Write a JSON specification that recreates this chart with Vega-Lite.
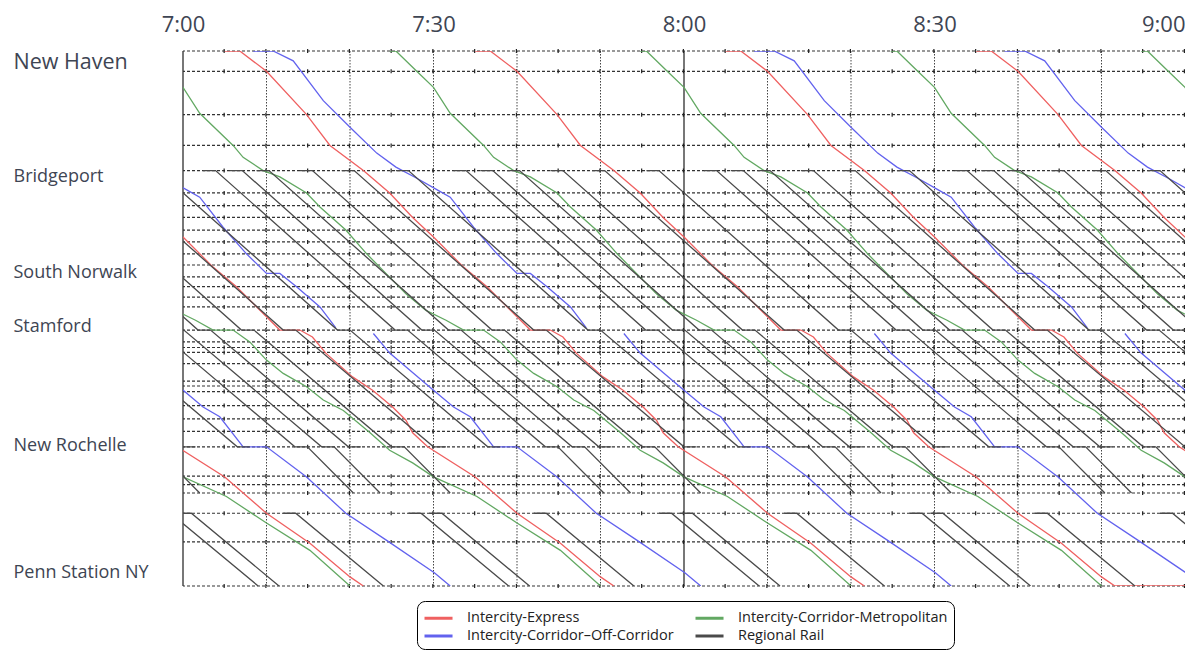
{
"$schema":"https://vega.github.io/schema/vega-lite/v6.json",
"width":1002,"height":535,
"autosize":{"type":"none"},
"padding":{"left":183,"top":51,"right":0,"bottom":64},
"background":"white",
"config":{"view":{"stroke":null},"font":"Open Sans"},
"datasets":{
"stations":[{"m":76.5},{"m":73.6},{"m":67.4},{"m":63.0},{"m":59.4},{"m":56.2},{"m":54.4},{"m":52.7},{"m":50.9},{"m":49.2},{"m":47.5},{"m":45.9},{"m":44.2},{"m":42.8},{"m":41.3},{"m":39.9},{"m":36.6},{"m":34.9},{"m":34.1},{"m":33.4},{"m":31.8},{"m":29.3},{"m":28.6},{"m":27.8},{"m":25.8},{"m":23.9},{"m":22.1},{"m":19.9},{"m":15.7},{"m":14.5},{"m":13.3},{"m":10.4},{"m":6.3},{"m":0}],
"trains":[
{"id":"E1","c":"E","t":-2.5,"m":21.9},{"id":"E1","c":"E","t":-0.7,"m":19.9},{"id":"E1","c":"E","t":5,"m":15.6},{"id":"E1","c":"E","t":10,"m":10.4},{"id":"E1","c":"E","t":15.2,"m":6.1},{"id":"E1","c":"E","t":20,"m":1.3},{"id":"E1","c":"E","t":21.6,"m":0},
{"id":"E2","c":"E","t":-2.5,"m":52.7},{"id":"E2","c":"E","t":0,"m":49.9},{"id":"E2","c":"E","t":3.6,"m":45.6},{"id":"E2","c":"E","t":6.4,"m":42.8},{"id":"E2","c":"E","t":10,"m":38.5},{"id":"E2","c":"E","t":11.6,"m":36.6},{"id":"E2","c":"E","t":14,"m":36.6},{"id":"E2","c":"E","t":15.5,"m":35.6},{"id":"E2","c":"E","t":17.1,"m":33.3},{"id":"E2","c":"E","t":20.3,"m":29.9},{"id":"E2","c":"E","t":22.7,"m":28.0},{"id":"E2","c":"E","t":25.1,"m":25.6},{"id":"E2","c":"E","t":26.7,"m":23.7},{"id":"E2","c":"E","t":27.5,"m":21.9},{"id":"E2","c":"E","t":29.3,"m":19.9},{"id":"E2","c":"E","t":35,"m":15.6},{"id":"E2","c":"E","t":40,"m":10.4},{"id":"E2","c":"E","t":45.2,"m":6.1},{"id":"E2","c":"E","t":50,"m":1.3},{"id":"E2","c":"E","t":51.6,"m":0},
{"id":"E3","c":"E","t":5,"m":76.5},{"id":"E3","c":"E","t":6.8,"m":76.5},{"id":"E3","c":"E","t":10,"m":73.6},{"id":"E3","c":"E","t":14.8,"m":67.4},{"id":"E3","c":"E","t":17.6,"m":63.0},{"id":"E3","c":"E","t":21.6,"m":59.4},{"id":"E3","c":"E","t":24.75,"m":56.2},{"id":"E3","c":"E","t":27.5,"m":52.7},{"id":"E3","c":"E","t":30,"m":49.9},{"id":"E3","c":"E","t":33.6,"m":45.6},{"id":"E3","c":"E","t":36.4,"m":42.8},{"id":"E3","c":"E","t":40,"m":38.5},{"id":"E3","c":"E","t":41.6,"m":36.6},{"id":"E3","c":"E","t":44,"m":36.6},{"id":"E3","c":"E","t":45.5,"m":35.6},{"id":"E3","c":"E","t":47.1,"m":33.3},{"id":"E3","c":"E","t":50.3,"m":29.9},{"id":"E3","c":"E","t":52.7,"m":28.0},{"id":"E3","c":"E","t":55.1,"m":25.6},{"id":"E3","c":"E","t":56.7,"m":23.7},{"id":"E3","c":"E","t":57.5,"m":21.9},{"id":"E3","c":"E","t":59.3,"m":19.9},{"id":"E3","c":"E","t":65,"m":15.6},{"id":"E3","c":"E","t":70,"m":10.4},{"id":"E3","c":"E","t":75.2,"m":6.1},{"id":"E3","c":"E","t":80,"m":1.3},{"id":"E3","c":"E","t":81.6,"m":0},
{"id":"E4","c":"E","t":35,"m":76.5},{"id":"E4","c":"E","t":36.8,"m":76.5},{"id":"E4","c":"E","t":40,"m":73.6},{"id":"E4","c":"E","t":44.8,"m":67.4},{"id":"E4","c":"E","t":47.6,"m":63.0},{"id":"E4","c":"E","t":51.6,"m":59.4},{"id":"E4","c":"E","t":54.75,"m":56.2},{"id":"E4","c":"E","t":57.5,"m":52.7},{"id":"E4","c":"E","t":60,"m":49.9},{"id":"E4","c":"E","t":63.6,"m":45.6},{"id":"E4","c":"E","t":66.4,"m":42.8},{"id":"E4","c":"E","t":70,"m":38.5},{"id":"E4","c":"E","t":71.6,"m":36.6},{"id":"E4","c":"E","t":74,"m":36.6},{"id":"E4","c":"E","t":75.5,"m":35.6},{"id":"E4","c":"E","t":77.1,"m":33.3},{"id":"E4","c":"E","t":80.3,"m":29.9},{"id":"E4","c":"E","t":82.7,"m":28.0},{"id":"E4","c":"E","t":85.1,"m":25.6},{"id":"E4","c":"E","t":86.7,"m":23.7},{"id":"E4","c":"E","t":87.5,"m":21.9},{"id":"E4","c":"E","t":89.3,"m":19.9},{"id":"E4","c":"E","t":95,"m":15.6},{"id":"E4","c":"E","t":100,"m":10.4},{"id":"E4","c":"E","t":105.2,"m":6.1},{"id":"E4","c":"E","t":110,"m":1.3},{"id":"E4","c":"E","t":111.6,"m":0},{"id":"E4","c":"E","t":120,"m":0},
{"id":"E5","c":"E","t":65,"m":76.5},{"id":"E5","c":"E","t":66.8,"m":76.5},{"id":"E5","c":"E","t":70,"m":73.6},{"id":"E5","c":"E","t":74.8,"m":67.4},{"id":"E5","c":"E","t":77.6,"m":63.0},{"id":"E5","c":"E","t":81.6,"m":59.4},{"id":"E5","c":"E","t":84.75,"m":56.2},{"id":"E5","c":"E","t":87.5,"m":52.7},{"id":"E5","c":"E","t":90,"m":49.9},{"id":"E5","c":"E","t":93.6,"m":45.6},{"id":"E5","c":"E","t":96.4,"m":42.8},{"id":"E5","c":"E","t":100,"m":38.5},{"id":"E5","c":"E","t":101.6,"m":36.6},{"id":"E5","c":"E","t":104,"m":36.6},{"id":"E5","c":"E","t":105.5,"m":35.6},{"id":"E5","c":"E","t":107.1,"m":33.3},{"id":"E5","c":"E","t":110.3,"m":29.9},{"id":"E5","c":"E","t":112.7,"m":28.0},{"id":"E5","c":"E","t":115.1,"m":25.6},{"id":"E5","c":"E","t":116.7,"m":23.7},{"id":"E5","c":"E","t":117.5,"m":21.9},{"id":"E5","c":"E","t":119.3,"m":19.9},{"id":"E5","c":"E","t":125,"m":15.6},
{"id":"E6","c":"E","t":95,"m":76.5},{"id":"E6","c":"E","t":96.8,"m":76.5},{"id":"E6","c":"E","t":100,"m":73.6},{"id":"E6","c":"E","t":104.8,"m":67.4},{"id":"E6","c":"E","t":107.6,"m":63.0},{"id":"E6","c":"E","t":111.6,"m":59.4},{"id":"E6","c":"E","t":114.75,"m":56.2},{"id":"E6","c":"E","t":117.5,"m":52.7},{"id":"E6","c":"E","t":120,"m":49.9},{"id":"E6","c":"E","t":123.6,"m":45.6},
{"id":"M1","c":"M","t":-2.5,"m":17.6},{"id":"M1","c":"M","t":0,"m":15.6},{"id":"M1","c":"M","t":5.2,"m":12.8},{"id":"M1","c":"M","t":10,"m":9.0},{"id":"M1","c":"M","t":15.2,"m":5.1},{"id":"M1","c":"M","t":20,"m":0},
{"id":"M2","c":"M","t":-3.3,"m":41.8},{"id":"M2","c":"M","t":-0.9,"m":39.4},{"id":"M2","c":"M","t":1.5,"m":38.0},{"id":"M2","c":"M","t":3.6,"m":36.6},{"id":"M2","c":"M","t":6,"m":36.6},{"id":"M2","c":"M","t":8,"m":34.9},{"id":"M2","c":"M","t":10,"m":32.3},{"id":"M2","c":"M","t":12,"m":30.4},{"id":"M2","c":"M","t":14.8,"m":28.5},{"id":"M2","c":"M","t":16.8,"m":26.6},{"id":"M2","c":"M","t":19.2,"m":25.1},{"id":"M2","c":"M","t":22.4,"m":21.9},{"id":"M2","c":"M","t":24.75,"m":19.4},{"id":"M2","c":"M","t":27.5,"m":17.6},{"id":"M2","c":"M","t":30,"m":15.6},{"id":"M2","c":"M","t":35.2,"m":12.8},{"id":"M2","c":"M","t":40,"m":9.0},{"id":"M2","c":"M","t":45.2,"m":5.1},{"id":"M2","c":"M","t":50,"m":0},
{"id":"M3","c":"M","t":-2.1,"m":73.7},{"id":"M3","c":"M","t":0,"m":71.3},{"id":"M3","c":"M","t":2,"m":67.6},{"id":"M3","c":"M","t":6,"m":63.0},{"id":"M3","c":"M","t":7.2,"m":61.3},{"id":"M3","c":"M","t":9.6,"m":59.4},{"id":"M3","c":"M","t":11.6,"m":58.5},{"id":"M3","c":"M","t":14.8,"m":56.2},{"id":"M3","c":"M","t":16.4,"m":54.2},{"id":"M3","c":"M","t":19.5,"m":50.9},{"id":"M3","c":"M","t":22,"m":47.5},{"id":"M3","c":"M","t":24.3,"m":44.7},{"id":"M3","c":"M","t":26.7,"m":41.8},{"id":"M3","c":"M","t":29.1,"m":39.4},{"id":"M3","c":"M","t":31.5,"m":38.0},{"id":"M3","c":"M","t":33.6,"m":36.6},{"id":"M3","c":"M","t":36,"m":36.6},{"id":"M3","c":"M","t":38,"m":34.9},{"id":"M3","c":"M","t":40,"m":32.3},{"id":"M3","c":"M","t":42,"m":30.4},{"id":"M3","c":"M","t":44.8,"m":28.5},{"id":"M3","c":"M","t":46.8,"m":26.6},{"id":"M3","c":"M","t":49.2,"m":25.1},{"id":"M3","c":"M","t":52.4,"m":21.9},{"id":"M3","c":"M","t":54.75,"m":19.4},{"id":"M3","c":"M","t":57.5,"m":17.6},{"id":"M3","c":"M","t":60,"m":15.6},{"id":"M3","c":"M","t":65.2,"m":12.8},{"id":"M3","c":"M","t":70,"m":9.0},{"id":"M3","c":"M","t":75.2,"m":5.1},{"id":"M3","c":"M","t":80,"m":0},
{"id":"M4","c":"M","t":24.75,"m":76.5},{"id":"M4","c":"M","t":25.5,"m":76.5},{"id":"M4","c":"M","t":27.9,"m":73.7},{"id":"M4","c":"M","t":30,"m":71.3},{"id":"M4","c":"M","t":32,"m":67.6},{"id":"M4","c":"M","t":36,"m":63.0},{"id":"M4","c":"M","t":37.2,"m":61.3},{"id":"M4","c":"M","t":39.6,"m":59.4},{"id":"M4","c":"M","t":41.6,"m":58.5},{"id":"M4","c":"M","t":44.8,"m":56.2},{"id":"M4","c":"M","t":46.4,"m":54.2},{"id":"M4","c":"M","t":49.5,"m":50.9},{"id":"M4","c":"M","t":52,"m":47.5},{"id":"M4","c":"M","t":54.3,"m":44.7},{"id":"M4","c":"M","t":56.7,"m":41.8},{"id":"M4","c":"M","t":59.1,"m":39.4},{"id":"M4","c":"M","t":61.5,"m":38.0},{"id":"M4","c":"M","t":63.6,"m":36.6},{"id":"M4","c":"M","t":66,"m":36.6},{"id":"M4","c":"M","t":68,"m":34.9},{"id":"M4","c":"M","t":70,"m":32.3},{"id":"M4","c":"M","t":72,"m":30.4},{"id":"M4","c":"M","t":74.8,"m":28.5},{"id":"M4","c":"M","t":76.8,"m":26.6},{"id":"M4","c":"M","t":79.2,"m":25.1},{"id":"M4","c":"M","t":82.4,"m":21.9},{"id":"M4","c":"M","t":84.75,"m":19.4},{"id":"M4","c":"M","t":87.5,"m":17.6},{"id":"M4","c":"M","t":90,"m":15.6},{"id":"M4","c":"M","t":95.2,"m":12.8},{"id":"M4","c":"M","t":100,"m":9.0},{"id":"M4","c":"M","t":105.2,"m":5.1},{"id":"M4","c":"M","t":110,"m":0},
{"id":"M5","c":"M","t":54.75,"m":76.5},{"id":"M5","c":"M","t":55.5,"m":76.5},{"id":"M5","c":"M","t":57.9,"m":73.7},{"id":"M5","c":"M","t":60,"m":71.3},{"id":"M5","c":"M","t":62,"m":67.6},{"id":"M5","c":"M","t":66,"m":63.0},{"id":"M5","c":"M","t":67.2,"m":61.3},{"id":"M5","c":"M","t":69.6,"m":59.4},{"id":"M5","c":"M","t":71.6,"m":58.5},{"id":"M5","c":"M","t":74.8,"m":56.2},{"id":"M5","c":"M","t":76.4,"m":54.2},{"id":"M5","c":"M","t":79.5,"m":50.9},{"id":"M5","c":"M","t":82,"m":47.5},{"id":"M5","c":"M","t":84.3,"m":44.7},{"id":"M5","c":"M","t":86.7,"m":41.8},{"id":"M5","c":"M","t":89.1,"m":39.4},{"id":"M5","c":"M","t":91.5,"m":38.0},{"id":"M5","c":"M","t":93.6,"m":36.6},{"id":"M5","c":"M","t":96,"m":36.6},{"id":"M5","c":"M","t":98,"m":34.9},{"id":"M5","c":"M","t":100,"m":32.3},{"id":"M5","c":"M","t":102,"m":30.4},{"id":"M5","c":"M","t":104.8,"m":28.5},{"id":"M5","c":"M","t":106.8,"m":26.6},{"id":"M5","c":"M","t":109.2,"m":25.1},{"id":"M5","c":"M","t":112.4,"m":21.9},{"id":"M5","c":"M","t":114.75,"m":19.4},{"id":"M5","c":"M","t":117.5,"m":17.6},{"id":"M5","c":"M","t":120,"m":15.6},{"id":"M5","c":"M","t":125.2,"m":12.8},
{"id":"M6","c":"M","t":84.75,"m":76.5},{"id":"M6","c":"M","t":85.5,"m":76.5},{"id":"M6","c":"M","t":87.9,"m":73.7},{"id":"M6","c":"M","t":90,"m":71.3},{"id":"M6","c":"M","t":92,"m":67.6},{"id":"M6","c":"M","t":96,"m":63.0},{"id":"M6","c":"M","t":97.2,"m":61.3},{"id":"M6","c":"M","t":99.6,"m":59.4},{"id":"M6","c":"M","t":101.6,"m":58.5},{"id":"M6","c":"M","t":104.8,"m":56.2},{"id":"M6","c":"M","t":106.4,"m":54.2},{"id":"M6","c":"M","t":109.5,"m":50.9},{"id":"M6","c":"M","t":112,"m":47.5},{"id":"M6","c":"M","t":114.3,"m":44.7},{"id":"M6","c":"M","t":116.7,"m":41.8},{"id":"M6","c":"M","t":119.1,"m":39.4},{"id":"M6","c":"M","t":121.5,"m":38.0},
{"id":"M7","c":"M","t":114.75,"m":76.5},{"id":"M7","c":"M","t":115.5,"m":76.5},{"id":"M7","c":"M","t":117.9,"m":73.7},{"id":"M7","c":"M","t":120,"m":71.3},{"id":"M7","c":"M","t":122,"m":67.6},
{"id":"O1","c":"O","t":-2,"m":58.3},{"id":"O1","c":"O","t":0.5,"m":56.6},{"id":"O1","c":"O","t":2,"m":55.6},{"id":"O1","c":"O","t":4.8,"m":51.3},{"id":"O1","c":"O","t":7.6,"m":47.5},{"id":"O1","c":"O","t":10,"m":44.7},{"id":"O1","c":"O","t":11.6,"m":44.7},{"id":"O1","c":"O","t":13.6,"m":42.8},{"id":"O1","c":"O","t":16.4,"m":39.9},{"id":"O1","c":"O","t":18.3,"m":36.9},
{"id":"O2","c":"O","t":8.4,"m":76.5},{"id":"O2","c":"O","t":10.8,"m":76.5},{"id":"O2","c":"O","t":13.2,"m":75.1},{"id":"O2","c":"O","t":16.8,"m":69.4},{"id":"O2","c":"O","t":20,"m":65.6},{"id":"O2","c":"O","t":23.2,"m":61.9},{"id":"O2","c":"O","t":25.5,"m":59.9},{"id":"O2","c":"O","t":28,"m":58.3},{"id":"O2","c":"O","t":30.5,"m":56.6},{"id":"O2","c":"O","t":32,"m":55.6},{"id":"O2","c":"O","t":34.8,"m":51.3},{"id":"O2","c":"O","t":37.6,"m":47.5},{"id":"O2","c":"O","t":40,"m":44.7},{"id":"O2","c":"O","t":41.6,"m":44.7},{"id":"O2","c":"O","t":43.6,"m":42.8},{"id":"O2","c":"O","t":46.4,"m":39.9},{"id":"O2","c":"O","t":48.3,"m":36.9},
{"id":"O3","c":"O","t":68.4,"m":76.5},{"id":"O3","c":"O","t":70.8,"m":76.5},{"id":"O3","c":"O","t":73.2,"m":75.1},{"id":"O3","c":"O","t":76.8,"m":69.4},{"id":"O3","c":"O","t":80,"m":65.6},{"id":"O3","c":"O","t":83.2,"m":61.9},{"id":"O3","c":"O","t":85.5,"m":59.9},{"id":"O3","c":"O","t":88,"m":58.3},{"id":"O3","c":"O","t":90.5,"m":56.6},{"id":"O3","c":"O","t":92,"m":55.6},{"id":"O3","c":"O","t":94.8,"m":51.3},{"id":"O3","c":"O","t":97.6,"m":47.5},{"id":"O3","c":"O","t":100,"m":44.7},{"id":"O3","c":"O","t":101.6,"m":44.7},{"id":"O3","c":"O","t":103.6,"m":42.8},{"id":"O3","c":"O","t":106.4,"m":39.9},{"id":"O3","c":"O","t":108.3,"m":36.9},
{"id":"O4","c":"O","t":98.4,"m":76.5},{"id":"O4","c":"O","t":100.8,"m":76.5},{"id":"O4","c":"O","t":103.2,"m":75.1},{"id":"O4","c":"O","t":106.8,"m":69.4},{"id":"O4","c":"O","t":110,"m":65.6},{"id":"O4","c":"O","t":113.2,"m":61.9},{"id":"O4","c":"O","t":115.5,"m":59.9},{"id":"O4","c":"O","t":118,"m":58.3},{"id":"O4","c":"O","t":120.5,"m":56.6},
{"id":"O5","c":"O","t":-7.2,"m":36.1},{"id":"O5","c":"O","t":-5.25,"m":33.3},{"id":"O5","c":"O","t":-0.5,"m":28.5},{"id":"O5","c":"O","t":2.4,"m":25.6},{"id":"O5","c":"O","t":4.4,"m":24.2},{"id":"O5","c":"O","t":7.2,"m":19.9},{"id":"O5","c":"O","t":10,"m":19.9},{"id":"O5","c":"O","t":14.8,"m":15.6},{"id":"O5","c":"O","t":19.5,"m":10.4},{"id":"O5","c":"O","t":24.3,"m":6.6},{"id":"O5","c":"O","t":30.1,"m":1.9},{"id":"O5","c":"O","t":32,"m":0},
{"id":"O6","c":"O","t":22.8,"m":36.1},{"id":"O6","c":"O","t":24.75,"m":33.3},{"id":"O6","c":"O","t":29.5,"m":28.5},{"id":"O6","c":"O","t":32.4,"m":25.6},{"id":"O6","c":"O","t":34.4,"m":24.2},{"id":"O6","c":"O","t":37.2,"m":19.9},{"id":"O6","c":"O","t":40,"m":19.9},{"id":"O6","c":"O","t":44.8,"m":15.6},{"id":"O6","c":"O","t":49.5,"m":10.4},{"id":"O6","c":"O","t":54.3,"m":6.6},{"id":"O6","c":"O","t":60.1,"m":1.9},{"id":"O6","c":"O","t":62,"m":0},
{"id":"O7","c":"O","t":52.8,"m":36.1},{"id":"O7","c":"O","t":54.75,"m":33.3},{"id":"O7","c":"O","t":59.5,"m":28.5},{"id":"O7","c":"O","t":62.4,"m":25.6},{"id":"O7","c":"O","t":64.4,"m":24.2},{"id":"O7","c":"O","t":67.2,"m":19.9},{"id":"O7","c":"O","t":70,"m":19.9},{"id":"O7","c":"O","t":74.8,"m":15.6},{"id":"O7","c":"O","t":79.5,"m":10.4},{"id":"O7","c":"O","t":84.3,"m":6.6},{"id":"O7","c":"O","t":90.1,"m":1.9},{"id":"O7","c":"O","t":92,"m":0},
{"id":"O8","c":"O","t":82.8,"m":36.1},{"id":"O8","c":"O","t":84.75,"m":33.3},{"id":"O8","c":"O","t":89.5,"m":28.5},{"id":"O8","c":"O","t":92.4,"m":25.6},{"id":"O8","c":"O","t":94.4,"m":24.2},{"id":"O8","c":"O","t":97.2,"m":19.9},{"id":"O8","c":"O","t":100,"m":19.9},{"id":"O8","c":"O","t":104.8,"m":15.6},{"id":"O8","c":"O","t":109.5,"m":10.4},{"id":"O8","c":"O","t":114.3,"m":6.6},{"id":"O8","c":"O","t":120.1,"m":1.9},
{"id":"O9","c":"O","t":112.8,"m":36.1},{"id":"O9","c":"O","t":114.75,"m":33.3},{"id":"O9","c":"O","t":119.5,"m":28.5},{"id":"O9","c":"O","t":122.4,"m":25.6},
{"id":"R01","c":"R","t":-5,"m":19.9},{"id":"R01","c":"R","t":-3.5,"m":19.9},{"id":"R01","c":"R","t":2,"m":13.3},
{"id":"R02","c":"R","t":-16.5,"m":36.6},{"id":"R02","c":"R","t":0,"m":19.9},{"id":"R02","c":"R","t":1.5,"m":19.9},
{"id":"R03","c":"R","t":-10,"m":36.6},{"id":"R03","c":"R","t":6.5,"m":19.9},{"id":"R03","c":"R","t":8,"m":19.9},
{"id":"R04","c":"R","t":-4.6,"m":36.6},{"id":"R04","c":"R","t":-3.1,"m":36.6},{"id":"R04","c":"R","t":13.4,"m":19.9},{"id":"R04","c":"R","t":14.9,"m":19.9},{"id":"R04","c":"R","t":20.4,"m":13.3},
{"id":"R05","c":"R","t":-22.9,"m":59.4},{"id":"R05","c":"R","t":-1.4,"m":36.6},{"id":"R05","c":"R","t":0.1,"m":36.6},{"id":"R05","c":"R","t":16.6,"m":19.9},{"id":"R05","c":"R","t":18.1,"m":19.9},{"id":"R05","c":"R","t":23.6,"m":13.3},
{"id":"R06","c":"R","t":-19.7,"m":59.4},{"id":"R06","c":"R","t":1.8,"m":36.6},{"id":"R06","c":"R","t":3.3,"m":36.6},{"id":"R06","c":"R","t":19.8,"m":19.9},{"id":"R06","c":"R","t":21.3,"m":19.9},
{"id":"R07","c":"R","t":-14.5,"m":59.4},{"id":"R07","c":"R","t":7,"m":36.6},{"id":"R07","c":"R","t":8.5,"m":36.6},{"id":"R07","c":"R","t":25,"m":19.9},{"id":"R07","c":"R","t":26.5,"m":19.9},{"id":"R07","c":"R","t":32,"m":13.3},
{"id":"R08","c":"R","t":-9.5,"m":59.4},{"id":"R08","c":"R","t":12,"m":36.6},{"id":"R08","c":"R","t":13.5,"m":36.6},{"id":"R08","c":"R","t":30,"m":19.9},{"id":"R08","c":"R","t":31.5,"m":19.9},
{"id":"R09","c":"R","t":-4.5,"m":59.4},{"id":"R09","c":"R","t":-3,"m":59.4},{"id":"R09","c":"R","t":18.5,"m":36.6},{"id":"R09","c":"R","t":20,"m":36.6},{"id":"R09","c":"R","t":36.5,"m":19.9},{"id":"R09","c":"R","t":38,"m":19.9},
{"id":"R10","c":"R","t":2.4,"m":59.4},{"id":"R10","c":"R","t":3.9,"m":59.4},{"id":"R10","c":"R","t":25.4,"m":36.6},{"id":"R10","c":"R","t":26.9,"m":36.6},{"id":"R10","c":"R","t":43.4,"m":19.9},{"id":"R10","c":"R","t":44.9,"m":19.9},{"id":"R10","c":"R","t":50.4,"m":13.3},
{"id":"R11","c":"R","t":5.6,"m":59.4},{"id":"R11","c":"R","t":7.1,"m":59.4},{"id":"R11","c":"R","t":28.6,"m":36.6},{"id":"R11","c":"R","t":30.1,"m":36.6},{"id":"R11","c":"R","t":46.6,"m":19.9},{"id":"R11","c":"R","t":48.1,"m":19.9},{"id":"R11","c":"R","t":53.6,"m":13.3},
{"id":"R12","c":"R","t":8.8,"m":59.4},{"id":"R12","c":"R","t":10.3,"m":59.4},{"id":"R12","c":"R","t":31.8,"m":36.6},{"id":"R12","c":"R","t":33.3,"m":36.6},{"id":"R12","c":"R","t":49.8,"m":19.9},{"id":"R12","c":"R","t":51.3,"m":19.9},
{"id":"R13","c":"R","t":14,"m":59.4},{"id":"R13","c":"R","t":15.5,"m":59.4},{"id":"R13","c":"R","t":37,"m":36.6},{"id":"R13","c":"R","t":38.5,"m":36.6},{"id":"R13","c":"R","t":55,"m":19.9},{"id":"R13","c":"R","t":56.5,"m":19.9},{"id":"R13","c":"R","t":62,"m":13.3},
{"id":"R14","c":"R","t":19,"m":59.4},{"id":"R14","c":"R","t":20.5,"m":59.4},{"id":"R14","c":"R","t":42,"m":36.6},{"id":"R14","c":"R","t":43.5,"m":36.6},{"id":"R14","c":"R","t":60,"m":19.9},{"id":"R14","c":"R","t":61.5,"m":19.9},
{"id":"R15","c":"R","t":25.5,"m":59.4},{"id":"R15","c":"R","t":27,"m":59.4},{"id":"R15","c":"R","t":48.5,"m":36.6},{"id":"R15","c":"R","t":50,"m":36.6},{"id":"R15","c":"R","t":66.5,"m":19.9},{"id":"R15","c":"R","t":68,"m":19.9},
{"id":"R16","c":"R","t":32.4,"m":59.4},{"id":"R16","c":"R","t":33.9,"m":59.4},{"id":"R16","c":"R","t":55.4,"m":36.6},{"id":"R16","c":"R","t":56.9,"m":36.6},{"id":"R16","c":"R","t":73.4,"m":19.9},{"id":"R16","c":"R","t":74.9,"m":19.9},{"id":"R16","c":"R","t":80.4,"m":13.3},
{"id":"R17","c":"R","t":35.6,"m":59.4},{"id":"R17","c":"R","t":37.1,"m":59.4},{"id":"R17","c":"R","t":58.6,"m":36.6},{"id":"R17","c":"R","t":60.1,"m":36.6},{"id":"R17","c":"R","t":76.6,"m":19.9},{"id":"R17","c":"R","t":78.1,"m":19.9},{"id":"R17","c":"R","t":83.6,"m":13.3},
{"id":"R18","c":"R","t":38.8,"m":59.4},{"id":"R18","c":"R","t":40.3,"m":59.4},{"id":"R18","c":"R","t":61.8,"m":36.6},{"id":"R18","c":"R","t":63.3,"m":36.6},{"id":"R18","c":"R","t":79.8,"m":19.9},{"id":"R18","c":"R","t":81.3,"m":19.9},
{"id":"R19","c":"R","t":44,"m":59.4},{"id":"R19","c":"R","t":45.5,"m":59.4},{"id":"R19","c":"R","t":67,"m":36.6},{"id":"R19","c":"R","t":68.5,"m":36.6},{"id":"R19","c":"R","t":85,"m":19.9},{"id":"R19","c":"R","t":86.5,"m":19.9},{"id":"R19","c":"R","t":92,"m":13.3},
{"id":"R20","c":"R","t":49,"m":59.4},{"id":"R20","c":"R","t":50.5,"m":59.4},{"id":"R20","c":"R","t":72,"m":36.6},{"id":"R20","c":"R","t":73.5,"m":36.6},{"id":"R20","c":"R","t":90,"m":19.9},{"id":"R20","c":"R","t":91.5,"m":19.9},
{"id":"R21","c":"R","t":55.5,"m":59.4},{"id":"R21","c":"R","t":57,"m":59.4},{"id":"R21","c":"R","t":78.5,"m":36.6},{"id":"R21","c":"R","t":80,"m":36.6},{"id":"R21","c":"R","t":96.5,"m":19.9},{"id":"R21","c":"R","t":98,"m":19.9},
{"id":"R22","c":"R","t":62.4,"m":59.4},{"id":"R22","c":"R","t":63.9,"m":59.4},{"id":"R22","c":"R","t":85.4,"m":36.6},{"id":"R22","c":"R","t":86.9,"m":36.6},{"id":"R22","c":"R","t":103.4,"m":19.9},{"id":"R22","c":"R","t":104.9,"m":19.9},{"id":"R22","c":"R","t":110.4,"m":13.3},
{"id":"R23","c":"R","t":65.6,"m":59.4},{"id":"R23","c":"R","t":67.1,"m":59.4},{"id":"R23","c":"R","t":88.6,"m":36.6},{"id":"R23","c":"R","t":90.1,"m":36.6},{"id":"R23","c":"R","t":106.6,"m":19.9},{"id":"R23","c":"R","t":108.1,"m":19.9},{"id":"R23","c":"R","t":113.6,"m":13.3},
{"id":"R24","c":"R","t":68.8,"m":59.4},{"id":"R24","c":"R","t":70.3,"m":59.4},{"id":"R24","c":"R","t":91.8,"m":36.6},{"id":"R24","c":"R","t":93.3,"m":36.6},{"id":"R24","c":"R","t":109.8,"m":19.9},{"id":"R24","c":"R","t":111.3,"m":19.9},
{"id":"R25","c":"R","t":74,"m":59.4},{"id":"R25","c":"R","t":75.5,"m":59.4},{"id":"R25","c":"R","t":97,"m":36.6},{"id":"R25","c":"R","t":98.5,"m":36.6},{"id":"R25","c":"R","t":115,"m":19.9},{"id":"R25","c":"R","t":116.5,"m":19.9},{"id":"R25","c":"R","t":122,"m":13.3},
{"id":"R26","c":"R","t":79,"m":59.4},{"id":"R26","c":"R","t":80.5,"m":59.4},{"id":"R26","c":"R","t":102,"m":36.6},{"id":"R26","c":"R","t":103.5,"m":36.6},{"id":"R26","c":"R","t":120,"m":19.9},
{"id":"R27","c":"R","t":85.5,"m":59.4},{"id":"R27","c":"R","t":87,"m":59.4},{"id":"R27","c":"R","t":108.5,"m":36.6},{"id":"R27","c":"R","t":110,"m":36.6},{"id":"R27","c":"R","t":126.5,"m":19.9},
{"id":"R28","c":"R","t":92.4,"m":59.4},{"id":"R28","c":"R","t":93.9,"m":59.4},{"id":"R28","c":"R","t":115.4,"m":36.6},{"id":"R28","c":"R","t":116.9,"m":36.6},{"id":"R28","c":"R","t":133.4,"m":19.9},
{"id":"R29","c":"R","t":95.6,"m":59.4},{"id":"R29","c":"R","t":97.1,"m":59.4},{"id":"R29","c":"R","t":118.6,"m":36.6},{"id":"R29","c":"R","t":120.1,"m":36.6},
{"id":"R30","c":"R","t":98.8,"m":59.4},{"id":"R30","c":"R","t":100.3,"m":59.4},{"id":"R30","c":"R","t":121.8,"m":36.6},
{"id":"R31","c":"R","t":104,"m":59.4},{"id":"R31","c":"R","t":105.5,"m":59.4},{"id":"R31","c":"R","t":127,"m":36.6},
{"id":"R32","c":"R","t":109,"m":59.4},{"id":"R32","c":"R","t":110.5,"m":59.4},{"id":"R32","c":"R","t":132,"m":36.6},
{"id":"R33","c":"R","t":115.5,"m":59.4},{"id":"R33","c":"R","t":117,"m":59.4},{"id":"R33","c":"R","t":138.5,"m":36.6},
{"id":"L01","c":"R","t":-3,"m":10.4},{"id":"L01","c":"R","t":-1.5,"m":10.4},{"id":"L01","c":"R","t":9,"m":0},
{"id":"L02","c":"R","t":-0.5,"m":10.4},{"id":"L02","c":"R","t":1,"m":10.4},{"id":"L02","c":"R","t":11.5,"m":0},
{"id":"L03","c":"R","t":12,"m":10.4},{"id":"L03","c":"R","t":13.5,"m":10.4},{"id":"L03","c":"R","t":24,"m":0},
{"id":"L04","c":"R","t":27,"m":10.4},{"id":"L04","c":"R","t":28.5,"m":10.4},{"id":"L04","c":"R","t":39,"m":0},
{"id":"L05","c":"R","t":29.5,"m":10.4},{"id":"L05","c":"R","t":31,"m":10.4},{"id":"L05","c":"R","t":41.5,"m":0},
{"id":"L06","c":"R","t":42,"m":10.4},{"id":"L06","c":"R","t":43.5,"m":10.4},{"id":"L06","c":"R","t":54,"m":0},
{"id":"L07","c":"R","t":57,"m":10.4},{"id":"L07","c":"R","t":58.5,"m":10.4},{"id":"L07","c":"R","t":69,"m":0},
{"id":"L08","c":"R","t":59.5,"m":10.4},{"id":"L08","c":"R","t":61,"m":10.4},{"id":"L08","c":"R","t":71.5,"m":0},
{"id":"L09","c":"R","t":72,"m":10.4},{"id":"L09","c":"R","t":73.5,"m":10.4},{"id":"L09","c":"R","t":84,"m":0},
{"id":"L10","c":"R","t":87,"m":10.4},{"id":"L10","c":"R","t":88.5,"m":10.4},{"id":"L10","c":"R","t":99,"m":0},
{"id":"L11","c":"R","t":89.5,"m":10.4},{"id":"L11","c":"R","t":91,"m":10.4},{"id":"L11","c":"R","t":101.5,"m":0},
{"id":"L12","c":"R","t":102,"m":10.4},{"id":"L12","c":"R","t":103.5,"m":10.4},{"id":"L12","c":"R","t":114,"m":0},
{"id":"L13","c":"R","t":117,"m":10.4},{"id":"L13","c":"R","t":118.5,"m":10.4},{"id":"L13","c":"R","t":129,"m":0},
{"id":"L14","c":"R","t":119.5,"m":10.4},{"id":"L14","c":"R","t":121,"m":10.4}
]},
"layer":[
{"data":{"values":[{"t":10},{"t":20},{"t":30},{"t":40},{"t":50},{"t":70},{"t":80},{"t":90},{"t":100},{"t":110}]},
 "mark":{"type":"rule","stroke":"#444","strokeDash":[1.5,1.5],"strokeWidth":1},
 "encoding":{"x":{"field":"t","type":"quantitative","scale":{"domain":[0,120],"nice":false}}}},
{"data":{"values":[{"t":0},{"t":60}]},
 "mark":{"type":"rule","stroke":"#555","strokeWidth":1.6},
 "encoding":{"x":{"field":"t","type":"quantitative"}}},
{"data":{"name":"stations"},
 "mark":{"type":"rule","stroke":"#333","strokeWidth":1.2,"strokeDash":[3,2]},
 "encoding":{"y":{"field":"m","type":"quantitative","scale":{"domain":[0,76.5],"nice":false,"zero":false}}}},
{"data":{"name":"stations"},
 "mark":{"type":"rule","stroke":"#222","strokeWidth":4,"strokeDash":[1.2,40.55]},
 "encoding":{"y":{"field":"m","type":"quantitative"}}},
{"data":{"name":"trains"},
 "mark":{"type":"line","strokeWidth":1.3,"clip":true},
 "encoding":{
  "x":{"field":"t","type":"quantitative","axis":{"orient":"top","title":null,"values":[0,30,60,90,120],"labelExpr":"(7+floor(datum.value/60)) + ':' + (datum.value % 60 == 0 ? '00' : '30')","domain":false,"ticks":false,"tickSize":0,"grid":false,"labelPadding":15,"labelFontSize":22,"labelFont":"Open Sans","labelColor":"#3e4553","labelOverlap":false,"labelAlign":{"condition":{"test":"datum.value == 120","value":"right"},"value":"center"}}},
  "y":{"field":"m","type":"quantitative","axis":{"orient":"left","title":null,"values":[74.86,58.57,44.86,37.14,20.14,2.0],"labelExpr":"datum.value > 70 ? 'New Haven' : datum.value > 50 ? 'Bridgeport' : datum.value > 40 ? 'South Norwalk' : datum.value > 30 ? 'Stamford' : datum.value > 10 ? 'New Rochelle' : 'Penn Station NY'","domain":false,"ticks":false,"tickSize":0,"grid":false,"labelAlign":"left","labelBaseline":"middle","labelPadding":170,"labelFont":"Open Sans","labelColor":"#3e4553","labelOverlap":false,"labelFontSize":{"condition":{"test":"datum.value > 70","value":21.5},"value":18}}},
  "color":{"field":"c","type":"nominal","scale":{"domain":["E","O","M","R"],"range":["#ef6060","#6262ee","#62a862","#4a4a4a"]},
   "legend":{"orient":"none","legendX":234,"legendY":550,"columns":2,"title":null,"symbolType":"M-1,0L1.95,0","symbolSize":361,"symbolStrokeWidth":3,"labelFontSize":14.5,"labelFont":"Open Sans","labelColor":"#222","labelLimit":400,"labelOffset":22,"strokeColor":"#000","fillColor":"#fff","cornerRadius":8,"padding":6,"columnPadding":15,"rowPadding":0,
    "labelExpr":"datum.value == 'E' ? 'Intercity-Express' : datum.value == 'M' ? 'Intercity-Corridor-Metropolitan' : datum.value == 'O' ? 'Intercity-Corridor–Off-Corridor' : 'Regional Rail'"}},
  "detail":{"field":"id"}
 }}
]
}
